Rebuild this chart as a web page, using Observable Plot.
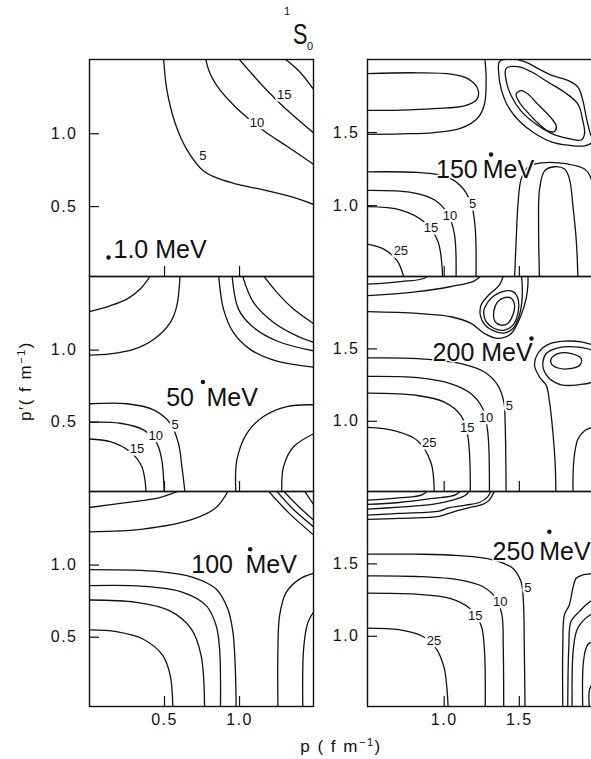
<!DOCTYPE html>
<html><head><meta charset="utf-8">
<script src="https://cdn.jsdelivr.net/npm/d3@7"></script>
<script src="https://cdn.jsdelivr.net/npm/@observablehq/plot@0.6"></script>
<style>
html,body{margin:0;padding:0;background:#fff;overflow:hidden;}
#wrap{position:relative;width:591px;height:759px;overflow:hidden;font-family:"Liberation Sans",Arial,sans-serif;}
#wrap svg{position:absolute;}
#wrap [aria-label$="tick label"] text{letter-spacing:1.5px;}
</style></head>
<body><div id="wrap"></div>
<script>
// ---- axes / layout values ----
const xDomL = [0, 1.493], yDomL = [0.02, 1.51];
const xDomR = [0.49, 2.0], yDomR = [0.515, 2.0];
const ticksL = [0.5, 1.0], ticksR = [1.0, 1.5];
const energies = ["1.0 MeV", "50\u2002MeV", "100\u2002MeV", "150\u2009MeV", "200 MeV", "250\u2009MeV"];
const titleP  = [0.16, 0.511, 0.678, 0.946, 0.923, 1.322];
const titlePp = [0.20, 0.667, 1.0, 1.245, 1.47, 1.585];
const dotP  = [0.127, 0.756, 1.071, 1.312, 1.581, 1.70];
const dotPp = [0.15, 0.779, 1.11, 1.35, 1.572, 1.722];

// ---- contour lines, [p, p'] in fm^-1 ----
// 1.0 MeV
const open1 = [
  [[0.493,1.53],[0.516,1.299],[0.571,1.072],[0.649,0.891],[0.76,0.744],[0.871,0.688],[0.982,0.654],[1.182,0.609],[1.36,0.563],[1.5,0.512]],
  [[0.771,1.53],[0.804,1.412],[0.871,1.299],[0.971,1.186],[1.071,1.095],[1.182,1.005],[1.316,0.914],[1.5,0.785]],
  [[0.982,1.53],[1.082,1.412],[1.182,1.299],[1.293,1.186],[1.393,1.095],[1.5,1.0]],
  [[1.282,1.53],[1.393,1.434],[1.5,1.295]]
];
const closed1 = [];
const labels1 = [[0.756,0.846,"5"],[1.116,1.072,"10"],[1.298,1.265,"15"]];

// 50 MeV
const open2 = [
  [[0,1.267],[0.138,1.307],[0.249,1.353],[0.338,1.423],[0.416,1.53]],
  [[0,0.965],[0.138,0.974],[0.293,1.005],[0.427,1.074],[0.538,1.191],[0.582,1.307],[0.604,1.53]],
  [[0.86,1.53],[0.893,1.284],[0.96,1.121],[1.071,1.005],[1.249,0.923],[1.5,0.881]],
  [[0.949,1.53],[0.993,1.284],[1.082,1.167],[1.249,1.063],[1.5,0.993]],
  [[1.016,1.53],[1.093,1.33],[1.227,1.191],[1.382,1.098],[1.5,1.051]],
  [[1.149,1.53],[1.249,1.4],[1.36,1.284],[1.5,1.179]],
  [[0,0.628],[0.249,0.628],[0.427,0.586],[0.538,0.493],[0.593,0.353],[0.616,0.191],[0.638,0]],
  [[0,0.5],[0.204,0.493],[0.36,0.447],[0.449,0.353],[0.482,0.237],[0.498,0]],
  [[0,0.384],[0.138,0.365],[0.271,0.295],[0.349,0.191],[0.378,0]],
  [[0.976,0],[0.982,0.237],[1.049,0.423],[1.16,0.54],[1.316,0.609],[1.5,0.621]],
  [[1.282,0],[1.293,0.191],[1.36,0.33],[1.5,0.423]]
];
const closed2 = [];
const labels2 = [[0.571,0.481,"5"],[0.442,0.405,"10"],[0.316,0.314,"15"]];

// 100 MeV
const open3 = [
  [[0,1.399],[0.244,1.433],[0.467,1.468],[0.633,1.53]],
  [[0,1.23],[0.356,1.249],[0.689,1.318],[0.844,1.399],[0.933,1.53]],
  [[1.178,1.53],[1.33,1.36],[1.5,1.203]],
  [[1.233,1.53],[1.36,1.385],[1.5,1.26]],
  [[1.278,1.53],[1.39,1.41],[1.5,1.306]],
  [[1.422,1.53],[1.5,1.41]],
  [[0,0.968],[0.467,0.954],[0.689,0.915],[0.844,0.834],[0.922,0.696],[0.956,0.535],[0.971,0.304],[0.978,0]],
  [[0,0.857],[0.356,0.853],[0.622,0.811],[0.778,0.719],[0.844,0.581],[0.867,0.419],[0.873,0]],
  [[0,0.758],[0.311,0.742],[0.533,0.684],[0.678,0.558],[0.744,0.373],[0.767,0]],
  [[0,0.551],[0.178,0.539],[0.356,0.488],[0.489,0.373],[0.538,0.235],[0.556,0]],
  [[1.256,0],[1.256,0.419],[1.267,0.65],[1.311,0.811],[1.4,0.903],[1.5,0.945]],
  [[1.422,0],[1.427,0.419],[1.456,0.604],[1.5,0.684]]
];
const closed3 = [];
const labels3 = [];

// 150 MeV
const open4 = [
  [[0.49,1.904],[0.823,1.909],[1.046,1.9],[1.157,1.869],[1.223,1.799],[1.219,1.729],[1.134,1.682],[0.934,1.664],[0.712,1.654],[0.49,1.652]],
  [[1.268,2.03],[1.279,1.881],[1.268,1.694],[1.223,1.6],[1.112,1.53],[0.934,1.5],[0.712,1.491],[0.49,1.488]],
  [[1.468,0.5],[1.479,0.759],[1.49,0.993],[1.512,1.18],[1.557,1.262],[1.646,1.292],[1.823,1.285],[1.934,1.25],[1.979,1.18],[1.985,1.0],[1.985,0.5]],
  [[1.634,0.5],[1.628,0.876],[1.634,1.11],[1.668,1.238],[1.734,1.266],[1.801,1.25],[1.834,1.18],[1.857,0.993],[1.879,0.759],[1.89,0.5]],
  [[0.49,1.231],[0.823,1.227],[1.001,1.203],[1.112,1.133],[1.179,1.016],[1.206,0.853],[1.212,0.5]],
  [[0.49,1.105],[0.779,1.091],[0.934,1.04],[1.023,0.946],[1.068,0.806],[1.079,0.5]],
  [[0.49,0.993],[0.712,0.97],[0.868,0.888],[0.957,0.759],[0.99,0.5]],
  [[0.49,0.736],[0.601,0.701],[0.69,0.619],[0.734,0.5]]
];
const closed4 = [
  [[1.368,1.986],[1.446,2.002],[1.534,1.986],[1.623,1.939],[1.712,1.893],[1.823,1.857],[1.89,1.811],[1.923,1.717],[1.946,1.6],[1.968,1.507],[1.986,1.437],[1.934,1.409],[1.823,1.414],[1.712,1.437],[1.601,1.495],[1.501,1.577],[1.423,1.682],[1.379,1.799],[1.363,1.904]],
  [[1.412,1.939],[1.49,1.951],[1.579,1.916],[1.69,1.846],[1.801,1.776],[1.89,1.694],[1.923,1.577],[1.934,1.495],[1.912,1.449],[1.823,1.46],[1.712,1.495],[1.601,1.565],[1.512,1.647],[1.446,1.752],[1.412,1.857]],
  [[1.479,1.764],[1.512,1.787],[1.557,1.764],[1.623,1.694],[1.712,1.6],[1.746,1.542],[1.734,1.507],[1.69,1.512],[1.623,1.565],[1.557,1.636],[1.501,1.706]]
];
const labels4 = [[1.19,1.012,"5"],[1.039,0.93,"10"],[0.912,0.846,"15"],[0.712,0.689,"25"]];

// 200 MeV
const open5 = [
  [[0.49,1.947],[0.712,1.965],[0.868,1.988],[0.912,2.03]],
  [[0.49,1.868],[0.823,1.896],[1.046,1.931],[1.201,1.97],[1.268,2.03]],
  [[0.49,1.757],[0.823,1.745],[1.046,1.722],[1.179,1.676],[1.268,1.606],[1.357,1.572],[1.446,1.606],[1.512,1.734],[1.546,1.85],[1.557,1.942],[1.557,2.03]],
  [[1.401,2.03],[1.368,1.942],[1.301,1.877],[1.246,1.803],[1.241,1.729],[1.272,1.664],[1.334,1.623],[1.397,1.609],[1.457,1.641],[1.497,1.722],[1.517,1.826],[1.519,1.942],[1.512,2.03]],
  [[2.03,1.53],[1.986,1.53],[1.912,1.549],[1.801,1.553],[1.69,1.53],[1.623,1.468],[1.601,1.387],[1.634,1.306],[1.679,1.248],[1.701,1.132],[1.723,0.924],[1.739,0.692],[1.743,0.5]],
  [[1.857,0.5],[1.863,0.738],[1.89,0.877],[1.934,0.935],[1.986,0.958],[2.03,0.965]],
  [[0.49,1.4375],[0.823,1.433],[1.112,1.398],[1.268,1.34],[1.357,1.248],[1.397,1.132],[1.406,0.97],[1.412,0.5]],
  [[0.49,1.31],[0.823,1.301],[1.046,1.259],[1.179,1.19],[1.257,1.086],[1.29,0.924],[1.301,0.5]],
  [[0.49,1.194],[0.823,1.178],[1.001,1.132],[1.112,1.039],[1.157,0.9],[1.174,0.5]],
  [[0.49,0.958],[0.668,0.935],[0.823,0.866],[0.912,0.715],[0.934,0.5]]
];
const closed5 = [
  [[1.268,1.78],[1.312,1.85],[1.39,1.896],[1.457,1.896],[1.49,1.85],[1.49,1.745],[1.457,1.664],[1.401,1.63],[1.334,1.641],[1.279,1.688],[1.263,1.745]],
  [[1.33,1.757],[1.357,1.826],[1.401,1.854],[1.446,1.85],[1.468,1.803],[1.457,1.734],[1.423,1.676],[1.379,1.664],[1.339,1.688]],
  [[1.657,1.41],[1.679,1.468],[1.757,1.507],[1.868,1.514],[2.001,1.479],[2.03,1.38],[2.001,1.282],[1.89,1.252],[1.779,1.252],[1.701,1.294],[1.663,1.352]],
  [[1.712,1.433],[1.757,1.468],[1.846,1.468],[1.912,1.433],[1.901,1.387],[1.834,1.363],[1.757,1.368],[1.712,1.398]]
];
const labels5 = [[1.434,1.109,"5"],[1.279,1.021,"10"],[1.153,0.958,"15"],[0.901,0.854,"25"]];

// 250 MeV
const open6 = [
  [[0.489,1.94],[0.7,1.956],[0.856,1.979],[0.911,2.03]],
  [[0.489,1.911],[0.7,1.924],[0.922,1.952],[1.078,1.979],[1.133,2.03]],
  [[0.489,1.878],[0.7,1.892],[0.922,1.911],[1.056,1.94],[1.144,1.975],[1.178,2.03]],
  [[0.489,1.837],[0.7,1.849],[0.967,1.865],[1.033,1.888],[1.144,1.906],[1.233,1.924],[1.289,1.963],[1.322,2.03]],
  [[0.489,1.807],[0.7,1.814],[0.967,1.828],[1.022,1.846],[1.078,1.865],[1.167,1.888],[1.256,1.911],[1.3,1.94],[1.344,2.03]],
  [[1.789,0.5],[1.789,0.92],[1.8,1.149],[1.833,1.218],[1.856,1.333],[1.878,1.401],[1.922,1.424],[1.973,1.431],[2.03,1.431]],
  [[1.822,0.5],[1.829,0.92],[1.844,1.103],[1.9,1.172],[1.973,1.241],[2.03,1.264]],
  [[1.851,0.5],[1.86,0.92],[1.889,1.057],[1.973,1.149],[2.03,1.167]],
  [[1.922,0.5],[1.927,0.828],[1.956,0.943],[2.03,0.977]],
  [[1.967,0.5],[1.971,0.644],[2.03,0.713]],
  [[0.489,1.567],[0.811,1.567],[1.1,1.557],[1.322,1.528],[1.456,1.47],[1.511,1.378],[1.527,1.241],[1.533,0.92],[1.538,0.5]],
  [[0.489,1.417],[0.811,1.413],[1.1,1.39],[1.256,1.344],[1.344,1.264],[1.384,1.149],[1.393,0.92],[1.396,0.5]],
  [[0.489,1.298],[0.811,1.291],[1.033,1.264],[1.167,1.195],[1.244,1.08],[1.267,0.92],[1.273,0.5]],
  [[0.489,1.057],[0.7,1.046],[0.856,1.0],[0.944,0.92],[1.0,0.782],[1.018,0.644],[1.027,0.5]]
];
const closed6 = [];
const labels6 = [[1.556,1.337,"5"],[1.373,1.236,"10"],[1.207,1.144,"15"],[0.933,0.97,"25"]];

// ---- rendering ----
const wrap = document.getElementById("wrap");
const rowTop = [59, 276, 491], rowBot = [276, 491, 706];
const fmt = d3.format(".1f");
const ink = "#111";

function toRows(lines) {
  return lines.flatMap((pts, i) => pts.map(([p, pp]) => ({id: i, p, pp})));
}

function panel(i, col, row, open, closed, labels) {
  const left = col === 0;
  const fl = left ? 89 : 367, fw = left ? 224 : 227;
  const ft = rowTop[row], fh = rowBot[row] - rowTop[row];
  const mL = left ? 60 : 40, mT = 2, mR = 2, mB = row === 2 ? 34 : 2;
  const xT = left ? ticksL : ticksR, yT = left ? ticksL : ticksR;
  const marks = [
    Plot.line(toRows(open), {x: "p", y: "pp", z: "id", curve: "catmull-rom", stroke: ink, strokeWidth: 1.3, clip: true}),
    Plot.line(toRows(closed), {x: "p", y: "pp", z: "id", curve: "catmull-rom-closed", stroke: ink, strokeWidth: 1.3, clip: true}),
    Plot.text(labels, {x: d => d[0], y: d => d[1], text: d => d[2], fontSize: 13, fill: ink, stroke: "white", strokeWidth: 5}),
    Plot.text([i], {x: d => titleP[d], y: d => titlePp[d], text: d => energies[d], fontSize: 25, textAnchor: "start", fill: ink, stroke: "white", strokeWidth: 3}),
    Plot.dot([i], {x: d => dotP[d], y: d => dotPp[d], r: 2.2, fill: ink}),
    Plot.tickY(yT, {y: d => d, insetRight: fw - 10, stroke: ink, strokeWidth: 1.2}),
    Plot.tickX(xT, {x: d => d, insetTop: fh - 10, stroke: ink, strokeWidth: 1.2}),
    Plot.axisY(yT, {tickSize: 0, tickPadding: left ? 12 : 8, tickFormat: fmt, fontSize: 16, label: null}),
    Plot.frame({stroke: ink, strokeWidth: 1.4})
  ];
  if (row === 2) marks.push(Plot.axisX(xT, {tickSize: 0, tickPadding: 7, tickFormat: fmt, fontSize: 16, label: null}));
  const svg = Plot.plot({
    width: mL + fw + mR, height: mT + fh + mB,
    marginLeft: mL, marginTop: mT, marginRight: mR, marginBottom: mB,
    x: {domain: left ? xDomL : xDomR, label: null, ...(row === 2 ? {} : {axis: null})},
    y: {domain: left ? yDomL : yDomR, label: null},
    style: {background: "transparent", maxWidth: "none", fontFamily: "'Liberation Sans', Arial, sans-serif", fontSize: "16px", color: ink},
    marks
  });
  svg.style.left = (fl - mL) + "px";
  svg.style.top = (ft - mT) + "px";
  wrap.appendChild(svg);
}

panel(0, 0, 0, open1, closed1, labels1);
panel(1, 0, 1, open2, closed2, labels2);
panel(2, 0, 2, open3, closed3, labels3);
panel(3, 1, 0, open4, closed4, labels4);
panel(4, 1, 1, open5, closed5, labels5);
panel(5, 1, 2, open6, closed6, labels6);

// ---- title and axis labels ----
const ns = "http://www.w3.org/2000/svg";
const ov = document.createElementNS(ns, "svg");
ov.setAttribute("width", 591); ov.setAttribute("height", 759);
ov.style.left = "0px"; ov.style.top = "0px"; ov.style.pointerEvents = "none";
ov.innerHTML = `
<g font-family="'Liberation Sans', Arial, sans-serif" fill="${ink}">
  <text x="284" y="15" font-size="11">1</text>
  <text transform="translate(293,44) scale(0.72,1)" font-size="30">S</text>
  <text x="307" y="50" font-size="11">0</text>
  <text transform="translate(31,381) rotate(-90)" text-anchor="middle" font-size="17" letter-spacing="1.5">p\u2032( f m<tspan dy="-6" font-size="11">\u22121</tspan><tspan dy="6">)</tspan></text>
  <text x="341" y="752" text-anchor="middle" font-size="17" letter-spacing="1.5">p ( f m<tspan dy="-6" font-size="11">\u22121</tspan><tspan dy="6">)</tspan></text>
</g>`;
wrap.appendChild(ov);
</script>
</body></html>
